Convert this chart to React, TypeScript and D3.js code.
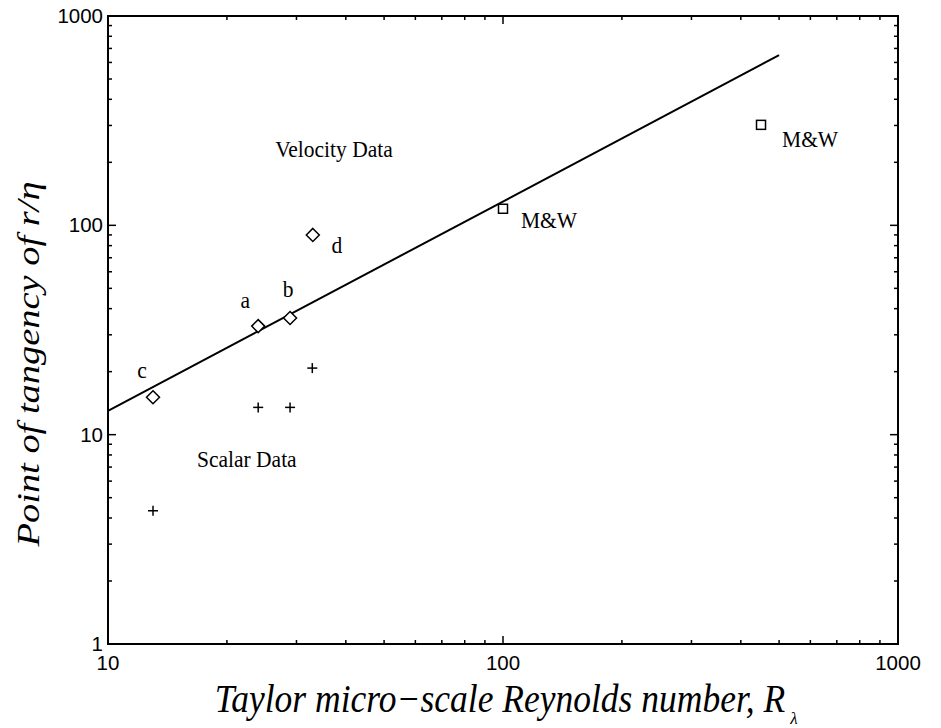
import React from "react";
import * as d3 from "d3";

// Velocity data (diamonds)
const velocityRe = [13, 24, 28.9, 33];
const velocityPt = [15.1, 33, 36.1, 90];
const velocityLabels = ["c", "a", "b", "d"];

// Scalar data (plus signs)
const scalarRe = [13, 24, 28.9, 32.9];
const scalarPt = [4.33, 13.5, 13.5, 20.8];

// M&W data (squares)
const mwRe = [100, 450];
const mwPt = [120, 302];

// Fit line
const fitRe = [10, 500];
const fitPt = [13, 650];

const xTicks = [10, 100, 1000];
const yTicks = [1, 10, 100, 1000];

const W = 941;
const H = 728;
const L = 108, R = 898, T = 16, B = 644;

export default function App() {
  const x = d3.scaleLog().domain([10, 1000]).range([L, R]);
  const y = d3.scaleLog().domain([1, 1000]).range([B, T]);

  const minorX: number[] = [];
  for (let dec = 10; dec < 1000; dec *= 10)
    for (let k = 2; k <= 9; k++) minorX.push(dec * k);
  const minorY: number[] = [];
  for (let dec = 1; dec < 1000; dec *= 10)
    for (let k = 2; k <= 9; k++) minorY.push(dec * k);

  const line = d3
    .line<number>()
    .x((_, i) => x(fitRe[i]))
    .y((d) => y(d));

  const serif = "'Liberation Serif', 'Times New Roman', serif";
  const sans = "'Liberation Sans', Arial, Helvetica, sans-serif";

  const labelOffsets: Record<string, [number, number]> = {
    c: [-11, -19],
    a: [-13, -18],
    b: [-2, -21],
    d: [24, 18],
  };

  const mwOffsets: [number, number][] = [
    [18, 19],
    [21, 22],
  ];

  const diamond = (cx: number, cy: number, r: number) =>
    `M${cx},${cy - r}L${cx + r},${cy}L${cx},${cy + r}L${cx - r},${cy}Z`;

  const SY = 1.1; // slight vertical stretch of glyphs, as in the reference

  return (
    <svg
      width={W}
      height={H}
      style={{ position: "absolute", left: 0, top: 0, background: "#fff" }}
    >
      <rect x={0} y={0} width={W} height={H} fill="#fff" />
      {/* ticks */}
      <g stroke="#000" strokeWidth={1.5}>
        {xTicks.map((t) => (
          <g key={"xt" + t}>
            <line x1={x(t)} x2={x(t)} y1={B} y2={B - 8} />
            <line x1={x(t)} x2={x(t)} y1={T} y2={T + 8} />
          </g>
        ))}
        {minorX.map((t) => (
          <g key={"xm" + t}>
            <line x1={x(t)} x2={x(t)} y1={B} y2={B - 4} />
            <line x1={x(t)} x2={x(t)} y1={T} y2={T + 4} />
          </g>
        ))}
        {yTicks.map((t) => (
          <g key={"yt" + t}>
            <line x1={L} x2={L + 8} y1={y(t)} y2={y(t)} />
            <line x1={R} x2={R - 8} y1={y(t)} y2={y(t)} />
          </g>
        ))}
        {minorY.map((t) => (
          <g key={"ym" + t}>
            <line x1={L} x2={L + 4} y1={y(t)} y2={y(t)} />
            <line x1={R} x2={R - 4} y1={y(t)} y2={y(t)} />
          </g>
        ))}
      </g>
      <rect
        x={L}
        y={T}
        width={R - L}
        height={B - T}
        fill="none"
        stroke="#000"
        strokeWidth={2}
      />
      {/* tick labels */}
      <g fontFamily={sans} fontSize={20.5} fill="#000">
        {xTicks.map((t) => (
          <text key={"xl" + t} x={x(t)} y={B + 26} textAnchor="middle">
            {t}
          </text>
        ))}
        {yTicks.map((t) => (
          <text key={"yl" + t} x={L - 5} y={y(t) + 7} textAnchor="end">
            {t}
          </text>
        ))}
      </g>
      {/* fit line */}
      <path d={line(fitPt) || ""} fill="none" stroke="#000" strokeWidth={2} />
      {/* velocity diamonds */}
      {velocityRe.map((v, i) => (
        <path
          key={"vd" + i}
          d={diamond(x(v), y(velocityPt[i]), 6.5)}
          fill="#fff"
          stroke="#000"
          strokeWidth={1.5}
        />
      ))}
      {/* scalar plus */}
      {scalarRe.map((v, i) => (
        <g key={"sp" + i} stroke="#000" strokeWidth={1.5}>
          <line x1={x(v) - 5} x2={x(v) + 5} y1={y(scalarPt[i])} y2={y(scalarPt[i])} />
          <line x1={x(v)} x2={x(v)} y1={y(scalarPt[i]) - 5} y2={y(scalarPt[i]) + 5} />
        </g>
      ))}
      {/* M&W squares */}
      {mwRe.map((v, i) => (
        <rect
          key={"mw" + i}
          x={x(v) - 4.5}
          y={y(mwPt[i]) - 4.5}
          width={9}
          height={9}
          fill="#fff"
          stroke="#000"
          strokeWidth={1.5}
        />
      ))}
      {/* annotations */}
      <g fontFamily={serif} fontSize={21.5} fill="#000">
        {velocityRe.map((v, i) => {
          const lab = velocityLabels[i];
          const [dx, dy] = labelOffsets[lab];
          return (
            <text
              key={"vl" + i}
              transform={`translate(${x(v) + dx},${y(velocityPt[i]) + dy}) scale(1,${SY})`}
              textAnchor="middle"
            >
              {lab}
            </text>
          );
        })}
        {mwRe.map((v, i) => (
          <text
            key={"ml" + i}
            transform={`translate(${x(v) + mwOffsets[i][0]},${y(mwPt[i]) + mwOffsets[i][1]}) scale(1,${SY})`}
          >
            M&amp;W
          </text>
        ))}
        <text transform={`translate(${x(26.5)},${y(212)}) scale(1,${SY})`}>
          Velocity Data
        </text>
        <text transform={`translate(${x(16.8)},${y(7.0)}) scale(1,${SY})`}>
          Scalar Data
        </text>
      </g>
      {/* axis titles */}
      <g fontFamily={serif} fontStyle="italic" fill="#000">
        <text
          transform={`translate(${(L + R) / 2 - 3},712) scale(1,1.12)`}
          fontSize={35.5}
          textAnchor="middle"
        >
          Taylor micro−scale Reynolds number, R
        </text>
        <text x={794} y={724} fontSize={17} textAnchor="middle">
          λ
        </text>
        <text
          transform={`translate(39, 364) rotate(-90)`}
          fontSize={31}
          textAnchor="middle"
          textLength={365}
          lengthAdjust="spacingAndGlyphs"
        >
          Point of tangency of r/η
        </text>
      </g>
    </svg>
  );
}
